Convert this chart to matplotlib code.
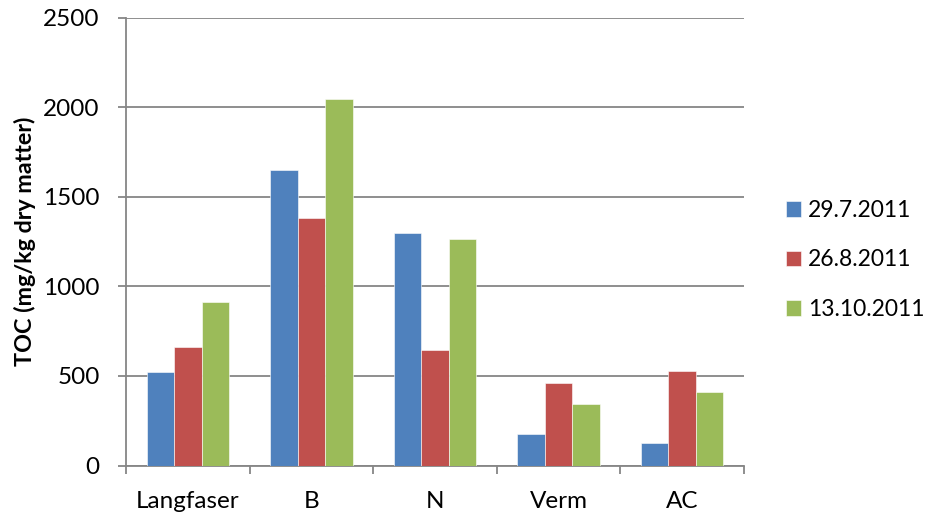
import matplotlib
matplotlib.use("Agg")
import matplotlib.pyplot as plt
import numpy as np

plt.rcParams['font.family'] = ['Lato', 'DejaVu Sans']

categories = ["Langfaser", "B", "N", "Verm", "AC"]
series_labels = ["29.7.2011", "26.8.2011", "13.10.2011"]
toc_jul = [520, 1650, 1300, 177, 123]
toc_aug = [660, 1380, 645, 463, 526]
toc_oct = [912, 2045, 1265, 341, 412]
series_values = [toc_jul, toc_aug, toc_oct]
colors = ["#4F81BD", "#C0504D", "#9BBB59"]
y_ticks = [0, 500, 1000, 1500, 2000, 2500]

fig = plt.figure(figsize=(9.3, 5.13), dpi=100)
ax = fig.add_axes([126 / 930, 1 - 465.5 / 513, (744 - 126) / 930, (465.5 - 17.7) / 513])

x = np.arange(len(categories))
w = 1 / 4.5
for i, (vals, lab, c) in enumerate(zip(series_values, series_labels, colors)):
    ax.bar(x + (i - 1) * w, vals, width=w, color=c, label=lab, zorder=3,
           edgecolor="white", linewidth=0.4)

grid_color = "#868686"
ax.set_xlim(-0.5, len(categories) - 0.5)
ax.set_ylim(0, 2500)
ax.set_yticks(y_ticks)
ax.yaxis.grid(True, color=grid_color, linewidth=1.3, zorder=0)
ax.set_axisbelow(True)

ax.set_xticks(x)
ax.set_xticklabels(categories)
ax.set_xticks(np.arange(-0.5, len(categories), 1.0), minor=True)
ax.tick_params(axis="x", which="major", length=0, pad=18, labelsize=17.5)
ax.tick_params(axis="x", which="minor", length=6, width=1.3, color=grid_color, direction="out")
ax.tick_params(axis="y", length=6, width=1.3, color=grid_color, direction="out", pad=13, labelsize=17.5)

for side in ["top", "right"]:
    ax.spines[side].set_visible(False)
for side in ["left", "bottom"]:
    ax.spines[side].set_color(grid_color)
    ax.spines[side].set_linewidth(1.3)

ax.set_ylabel("TOC (mg/kg dry matter)", fontsize=16.8, fontweight="bold", labelpad=5)

leg = fig.legend(loc="center left", bbox_to_anchor=(786 / 930, 1 - 260 / 513),
                 frameon=False, fontsize=16.5, handlelength=0.66, handleheight=0.66,
                 handletextpad=0.3, labelspacing=1.25, borderpad=0, borderaxespad=0)

fig.savefig("out.png", dpi=100)
